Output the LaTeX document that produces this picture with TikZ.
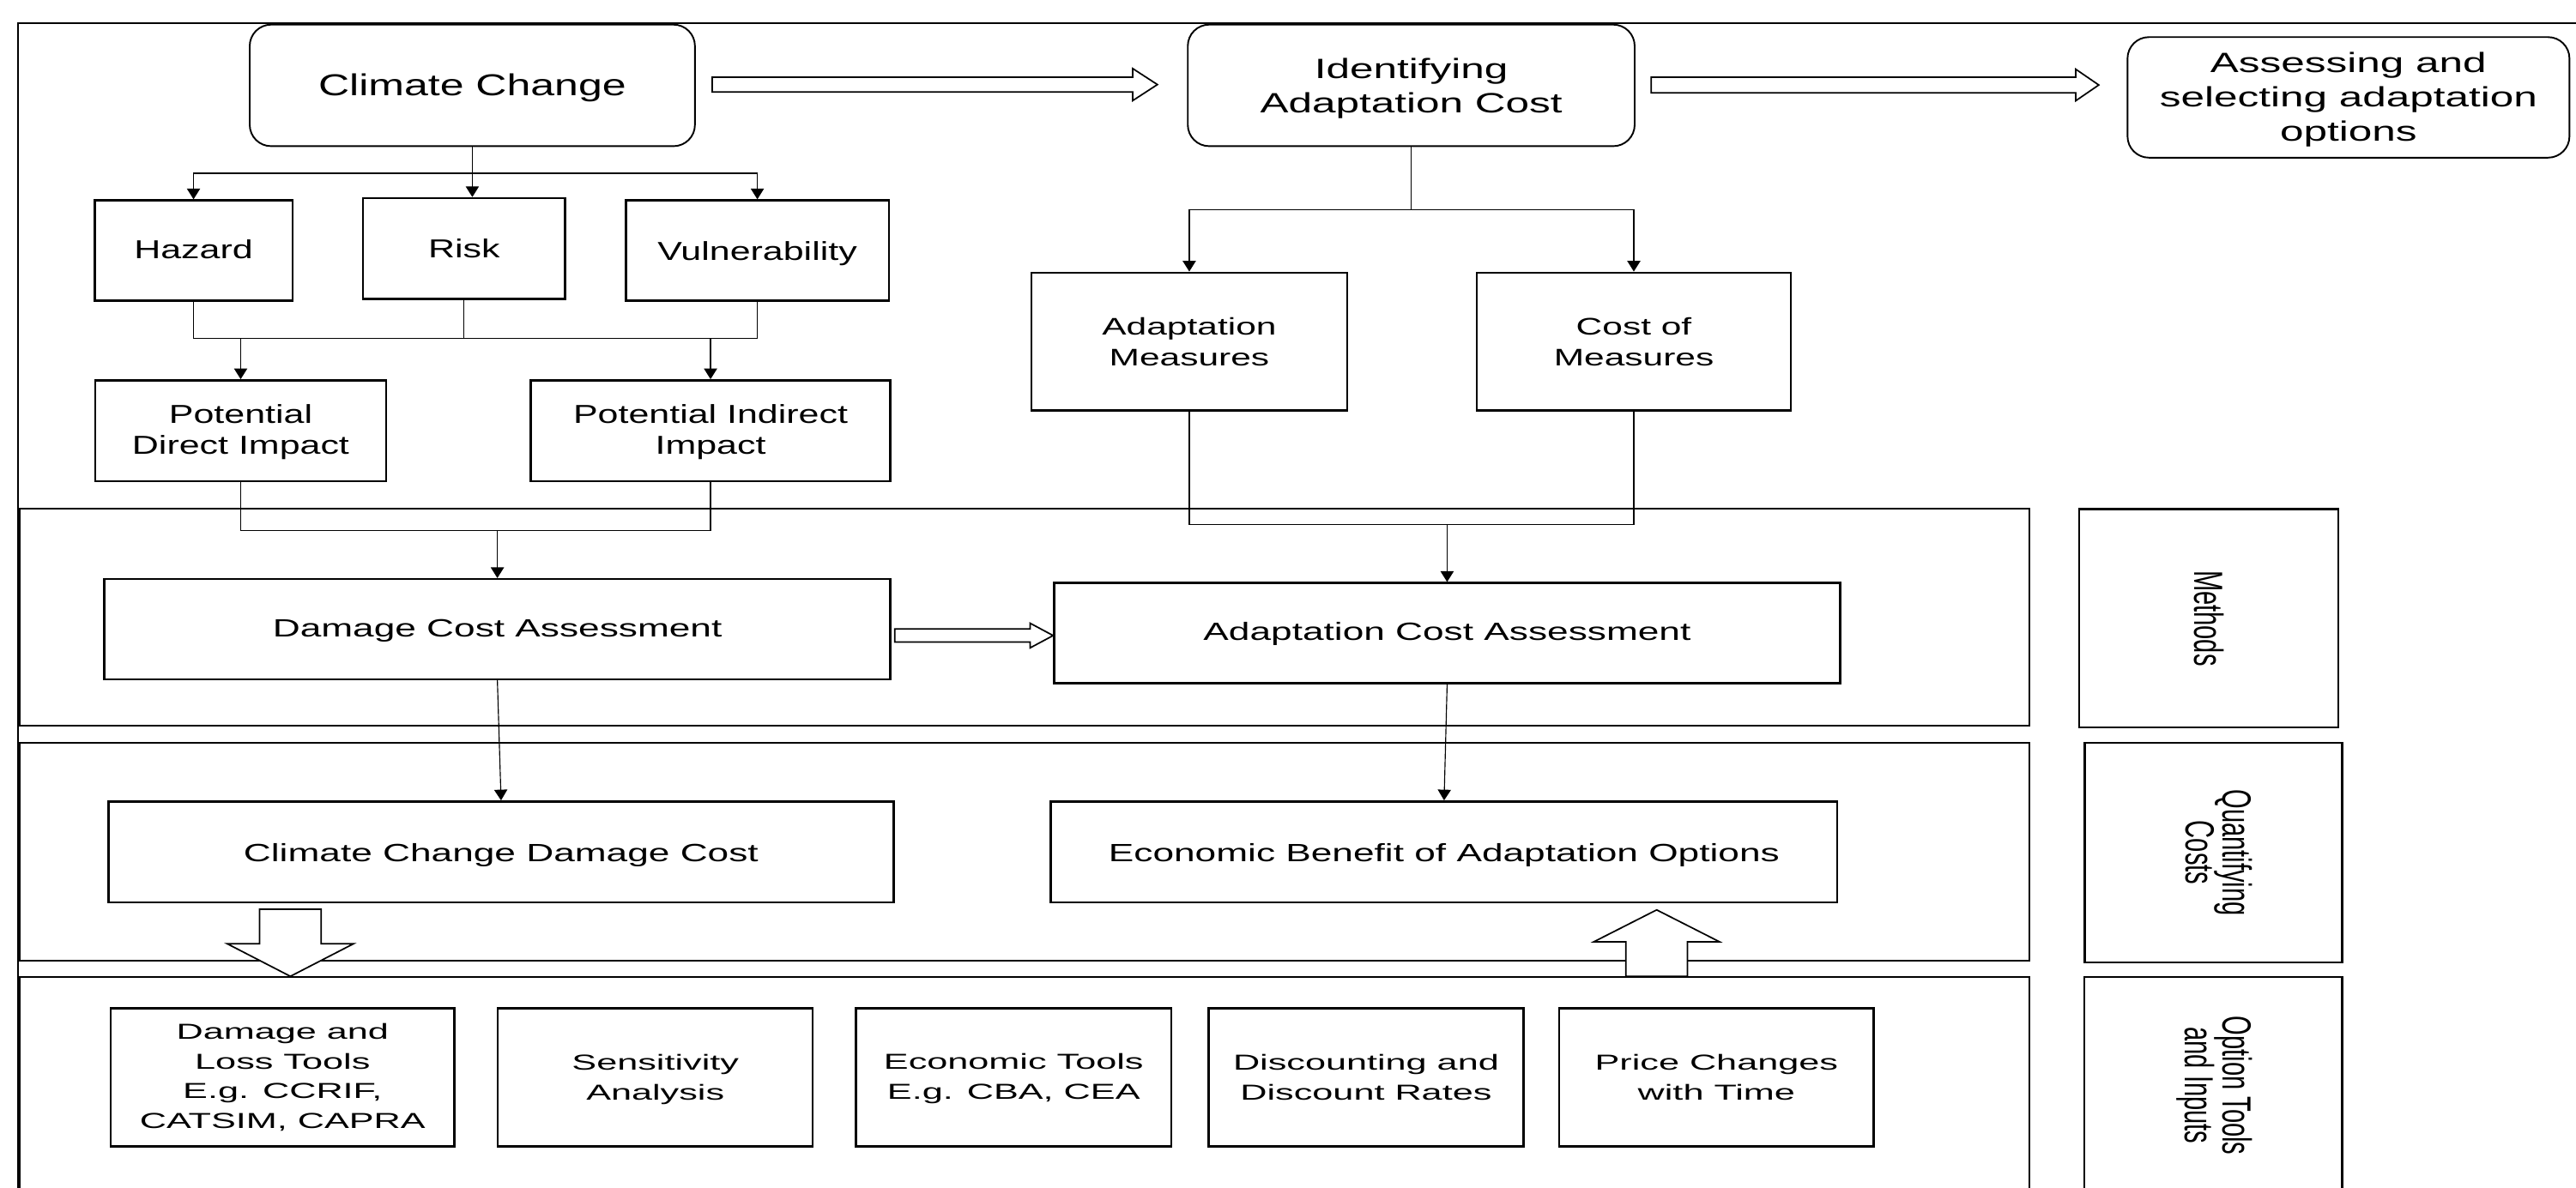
\documentclass[tikz,border=0pt]{standalone}
\usepackage{fontspec}
\usepackage{graphicx}
\setmainfont{Liberation Sans}
\newfontfamily\fa{Liberation Sans}[FakeStretch=1.42]
\newfontfamily\fc{Liberation Sans}[FakeStretch=1.52]
\newfontfamily\fb{Liberation Sans}[FakeStretch=1.71]
\newfontfamily\fr{Liberation Sans}
\newcommand{\lw}[2]{\raisebox{-#1}[\height][\depth]{\begin{tabular}{@{}c@{}}#2\end{tabular}}}
\usetikzlibrary{arrows.meta,calc}
\tikzset{
  box/.style={draw, line width=1.3pt, fill=white, inner sep=0pt, align=center},
  rbox/.style={box, rounded corners=13pt, line width=1pt},
  sect/.style={draw, line width=1pt, inner sep=0pt},
  conn/.style={line width=0.6pt, -{Triangle[length=6.5pt,width=8pt]}},
  wire/.style={line width=0.6pt},
  hollow/.style={draw, fill=white, line width=0.9pt, line join=miter},
  fcc/.style={font={\fa\fontsize{18.4}{21}\selectfont}},
  fid/.style={font={\fc\fontsize{17}{21}\selectfont}},
  fmid/.style={font={\fa\fontsize{15.8}{19}\selectfont}},
  fam/.style={font={\fc\fontsize{14.6}{18.6}\selectfont}},
  fass/.style={font={\fc\fontsize{15.2}{18}\selectfont}},
  fbot/.style={font={\fb\fontsize{13.2}{18.2}\selectfont}},
  frot/.style={font={\fr\fontsize{15.2}{17}\selectfont}},
}
\begin{document}
\begin{tikzpicture}[x=1pt,y=-1pt]
\useasboundingbox (0,0) rectangle (1568,723);
\clip (0,0) rectangle (1568,723);
\fill[white] (0,0) rectangle (1568,723);

% outer frame
\draw[line width=1pt] (11,760) -- (11,14) -- (1600,14);

% sections
\node[sect, minimum width=1223.5pt, minimum height=132.4pt] (secM) at (623.75,375.8) {};
\node[sect, minimum width=1223.5pt, minimum height=132.4pt] (secQ) at (623.75,518.6) {};
\node[sect, minimum width=1223.5pt, minimum height=145pt] (secO) at (623.75,667.5) {};

% side labels
\node[box, frot, rotate=-90, minimum width=133pt, minimum height=157.8pt] (labM) at (1344.5,376.5) {\scalebox{1}[1.63]{Methods}};
\node[box, frot, rotate=-90, minimum width=133.6pt, minimum height=156.7pt] (labQ) at (1347.4,519.2) {\scalebox{1}[1.63]{\begin{tabular}{@{}c@{}}Quantifying\\[-3pt]Costs\end{tabular}}};
\node[box, frot, rotate=-90, minimum width=132pt, minimum height=157pt] (labO) at (1347.2,661) {\scalebox{1}[1.63]{\begin{tabular}{@{}c@{}}Option Tools\\[-3pt]and Inputs\end{tabular}}};

% top row
\node[rbox, fcc, minimum width=271pt, minimum height=74pt] (cc) at (287.5,52) {\lw{2pt}{Climate Change}};
\node[rbox, fid, minimum width=272pt, minimum height=74pt] (iac) at (859,52) {\lw{2pt}{Identifying\\Adaptation Cost}};
\node[rbox, fid, minimum width=269pt, minimum height=73.4pt] (asa) at (1429.5,59.3) {\lw{1.5pt}{Assessing and\\selecting adaptation\\options}};

% second row
\node[box, fmid, minimum width=120.4pt, minimum height=61pt] (hz) at (117.8,152.5) {\lw{1pt}{Hazard}};
\node[box, fmid, minimum width=123pt, minimum height=61.3pt] (rk) at (282.5,151.3) {Risk};
\node[box, fmid, minimum width=160pt, minimum height=61pt] (vu) at (461,152.5) {\lw{2pt}{Vulnerability}};
\node[box, fmid, minimum width=177pt, minimum height=61.5pt] (pdi) at (146.5,262.3) {\lw{1.2pt}{Potential\\Direct Impact}};
\node[box, fmid, minimum width=219pt, minimum height=61.5pt] (pii) at (432.5,262.3) {\lw{1.2pt}{Potential Indirect\\Impact}};
\node[box, fam, minimum width=192pt, minimum height=84pt] (am) at (723.9,208) {Adaptation\\Measures};
\node[box, fam, minimum width=191pt, minimum height=84pt] (cm) at (994.5,208) {Cost of\\Measures};

% methods
\node[box, fass, minimum width=478.5pt, minimum height=61pt] (dca) at (302.75,383.15) {\lw{1pt}{Damage Cost Assessment}};
\node[box, fass, minimum width=478.3pt, minimum height=61pt] (aca) at (880.85,385.5) {\lw{1pt}{Adaptation Cost Assessment}};

% quantifying
\node[box, fass, minimum width=478pt, minimum height=61.6pt] (ccdc) at (305,518.8) {\lw{2pt}{Climate Change Damage Cost}};
\node[box, fass, minimum width=478.7pt, minimum height=61.6pt] (ebao) at (879,518.8) {\lw{2pt}{Economic Benefit of Adaptation Options}};

% bottom tools
\node[box, fbot, minimum width=209pt, minimum height=84pt] (dlt) at (172,656) {Damage and\\Loss Tools\\E.g. CCRIF,\\CATSIM, CAPRA};
\node[box, fbot, minimum width=191.7pt, minimum height=84pt] (sa) at (398.9,656) {\lw{1pt}{Sensitivity\\Analysis}};
\node[box, fbot, minimum width=192pt, minimum height=84pt] (et) at (617,656) {\lw{0.5pt}{Economic Tools\\E.g. CBA, CEA}};
\node[box, fbot, minimum width=191.6pt, minimum height=84pt] (dd) at (831.5,656) {Discounting and\\Discount Rates};
\node[box, fbot, minimum width=191.5pt, minimum height=84pt] (pc) at (1044.8,656) {Price Changes\\with Time};

% connectors: climate change tree
\coordinate (b1) at ($(cc.south)+(0,16)$);
\draw[conn] (cc.south) -- (cc.south |- rk.north);
\draw[conn] (b1) -| (hz.north);
\draw[conn] (b1) -| (vu.north);

\coordinate (b2) at (0,206);
\draw[wire] (hz.south) -- (hz.south |- b2) -- (vu.south |- b2) -- (vu.south);
\draw[wire] (rk.south) -- (rk.south |- b2);
\draw[conn] (pdi.north |- b2) -- (pdi.north);
\draw[conn] (pii.north |- b2) -- (pii.north);

\coordinate (b3) at (0,323);
\draw[wire] (pdi.south) -- (pdi.south |- b3) -- (pii.south |- b3) -- (pii.south);
\draw[conn] (dca.north |- b3) -- (dca.north);

% identifying tree
\coordinate (b4) at (0,127.6);
\draw[wire] (iac.south) -- (iac.south |- b4);
\draw[conn] (iac.south |- b4) -| (am.north);
\draw[conn] (iac.south |- b4) -| (cm.north);

\coordinate (b5) at (0,319.5);
\draw[wire] (am.south) -- (am.south |- b5) -- (cm.south |- b5) -- (cm.south);
\draw[conn] (aca.north |- b5) -- (aca.north);

% methods to quantifying
\draw[conn] (dca.south) -- (ccdc.north);
\draw[conn] (aca.south) -- (ebao.north);

% hollow arrows (horizontal)
\coordinate (h1s) at ($(cc.east)+(10,-0.5)$);
\coordinate (h1e) at ($(iac.west)+(-18,-0.5)$);
\draw[hollow] ($(h1s)+(0,-4.5)$) -- ($(h1e)+(-15,-4.5)$) -- ($(h1e)+(-15,-9.75)$) -- (h1e)
  -- ($(h1e)+(-15,9.75)$) -- ($(h1e)+(-15,4.5)$) -- ($(h1s)+(0,4.5)$) -- cycle;

\coordinate (h2s) at ($(iac.east)+(9.5,-0.25)$);
\coordinate (h2e) at ($(asa.west)+(-17,-7.55)$);
\draw[hollow] ($(h2s)+(0,-4.75)$) -- ($(h2e)+(-14,-4.75)$) -- ($(h2e)+(-14,-9.6)$) -- (h2e)
  -- ($(h2e)+(-14,9.6)$) -- ($(h2e)+(-14,4.75)$) -- ($(h2s)+(0,4.75)$) -- cycle;

\coordinate (h3s) at ($(dca.east)+(2,3.85)$);
\coordinate (h3e) at ($(aca.west)+(0,1.5)$);
\draw[hollow] ($(h3s)+(0,-4)$) -- ($(h3e)+(-14,-4)$) -- ($(h3e)+(-14,-7.5)$) -- (h3e)
  -- ($(h3e)+(-14,7.5)$) -- ($(h3e)+(-14,4)$) -- ($(h3s)+(0,4)$) -- cycle;

% big hollow arrows (vertical)
\coordinate (vds) at ($(ccdc.south)+(-128.25,3.4)$);
\coordinate (vde) at (vds |- secO.north);
\draw[hollow] ($(vds)+(-18.75,0)$) -- ($(vds)+(18.75,0)$) -- ($(vds)+(18.75,21)$) -- ($(vds)+(38.5,21)$)
  -- (vde) -- ($(vds)+(-38.5,21)$) -- ($(vds)+(-18.75,21)$) -- cycle;

\coordinate (vus) at ($(secO.north)+(384.65,0)$);
\coordinate (vue) at ($(ebao.south)+(129.4,3.8)$);
\draw[hollow] ($(vus)+(-18.7,0)$) -- ($(vus)+(18.7,0)$) -- ($(vus)+(18.7,-21)$) -- ($(vus)+(38.3,-21)$)
  -- (vus |- vue) -- ($(vus)+(-38.3,-21)$) -- ($(vus)+(-18.7,-21)$) -- cycle;
\end{tikzpicture}
\end{document}
